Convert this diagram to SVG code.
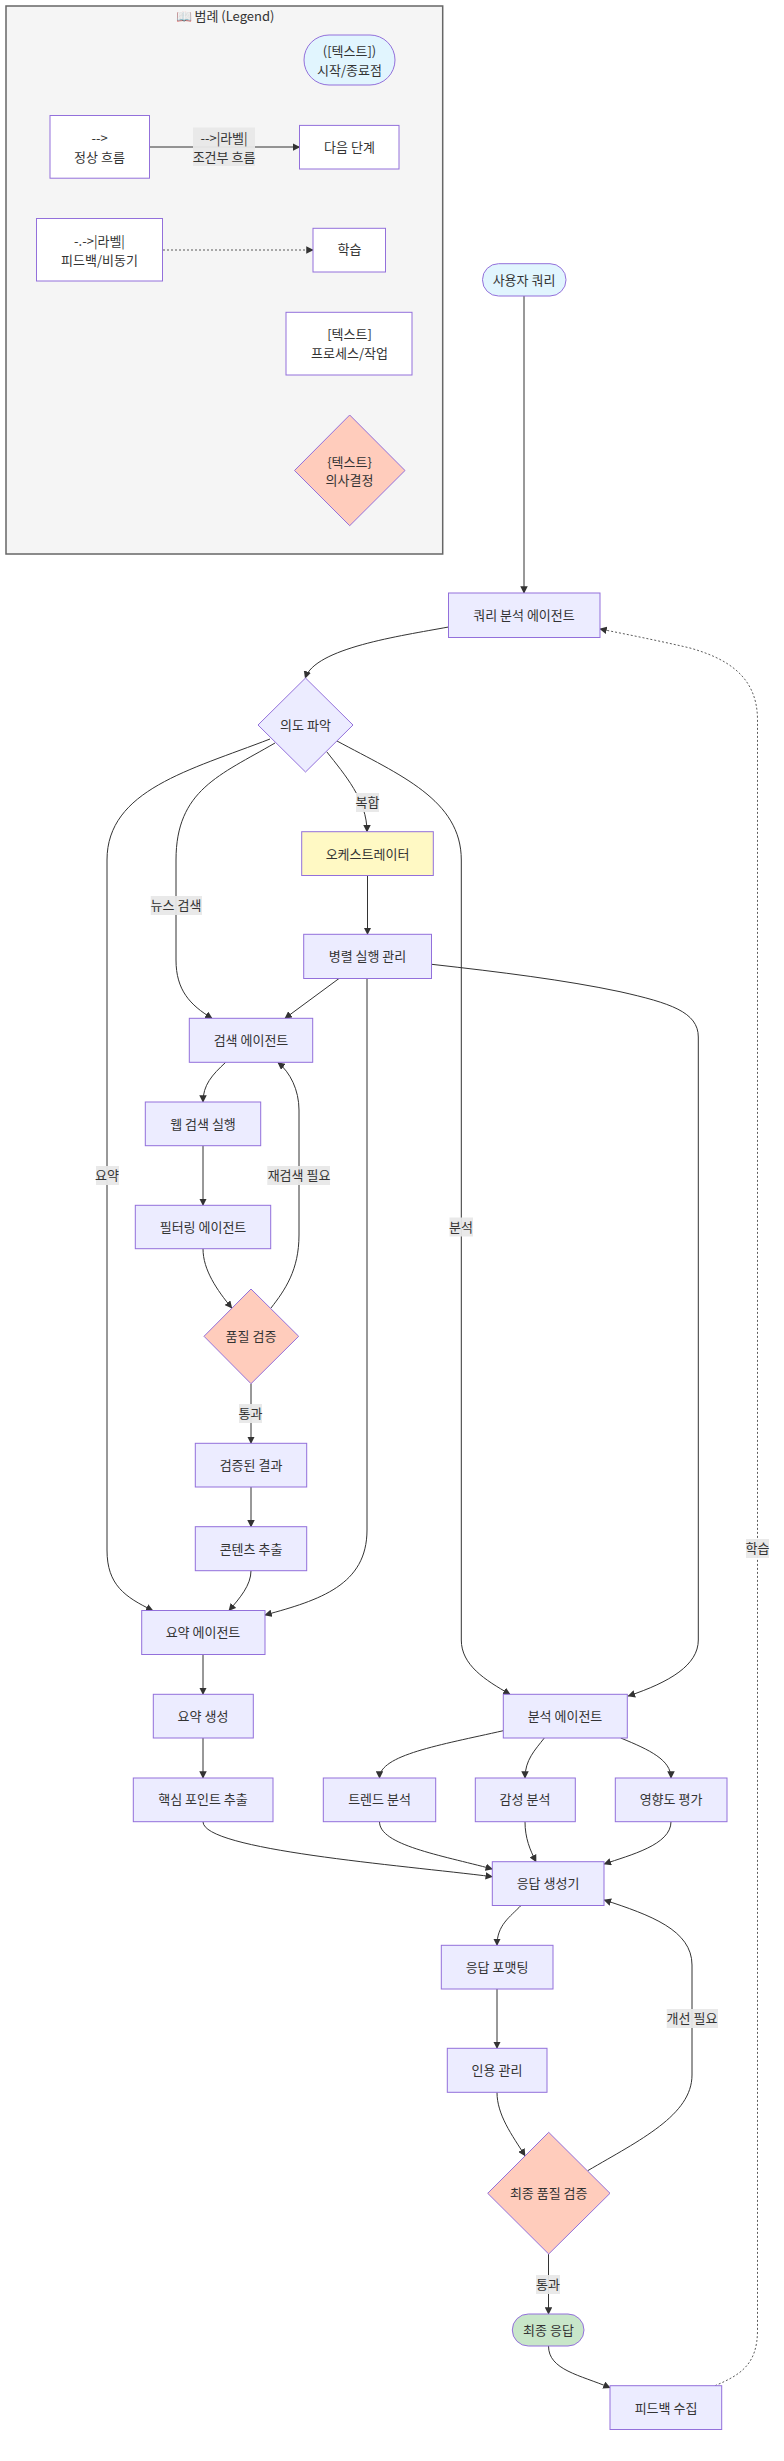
<svg xmlns="http://www.w3.org/2000/svg" width="784" height="2461" viewBox="0 0 784 2461">
<style>
text{font-family:"Noto Sans CJK KR","Noto Sans",sans-serif;font-size:13px;fill:#333;text-anchor:middle;dominant-baseline:central}
.n{fill:#ececff;stroke:#9370db;stroke-width:1}
.w{fill:#fff}
.d{fill:#ffccbc}
.s{fill:#e1f5fe}
.g{fill:#c8e6c9}
.y{fill:#fff9c4}
.c path{fill:none;stroke:#333;stroke-width:1;marker-end:url(#a)}
.c path.dot{stroke-dasharray:2 2;stroke-opacity:.8}
.lb{fill:#e8e8e8;opacity:.95}
</style>
<defs><marker id="a" viewBox="0 0 10 10" refX="9" refY="5" markerWidth="7.5" markerHeight="7.5" markerUnits="userSpaceOnUse" orient="auto"><path d="M0 0L10 5L0 10z" fill="#333"/></marker></defs>
<rect x="0" y="0" width="784" height="2461" fill="#fff"/>
<g id="legend">
<rect x="6" y="6" width="436.700" height="548" fill="#f5f5f5" stroke="#666" stroke-width="1.500"/>
<text x="225" y="15">📖 범례 (Legend)</text>
</g>
<g class="c" id="connectors">
<path d="M150 147H299.500"/>
<path class="dot" d="M163 250H313"/>
<path d="M524 296V593"/>
<path d="M448.500 627C400 636 315 648 305.300 678"/>
<path d="M270 739C190 770 107 790 107 860V1550C107 1585 125 1597 152.700 1610.500"/>
<path d="M275 743C220 775 176 790 176 860V960C176 990 190 1005 212 1018.300"/>
<path d="M326.700 751.700C345 775 367 800 367 831.700"/>
<path d="M337 741C400 775 461.300 800 461.300 860V1640C461.300 1665 485 1680 510 1694.300"/>
<path d="M367.500 875.500V934.300"/>
<path d="M339 978.500L285 1018.300"/>
<path d="M431.700 964.300C500 972 565 980 620 991.700C670 1003 698.300 1012 698.300 1037V1640C698.300 1665 670 1682 628.300 1696"/>
<path d="M367 978.500V1530C367 1585 320 1600 265 1615"/>
<path d="M225.700 1062.300C212 1075 203 1085 203 1102"/>
<path d="M203 1145.700V1205.300"/>
<path d="M203 1248.700C203 1270 217 1290 231.700 1308"/>
<path d="M271 1308C285 1290 299 1270 299 1235V1110C299 1090 290 1072 278 1062.700"/>
<path d="M251 1383.700V1443.300"/>
<path d="M251 1487V1526.700"/>
<path d="M251 1570.700C251 1585 240 1598 229 1610.500"/>
<path d="M203 1654.500V1694.300"/>
<path d="M203 1738V1778"/>
<path d="M203 1821.700C203 1850 400 1865 492.300 1876.700"/>
<path d="M379.500 1821.700C379.500 1845 440 1855 492.300 1869"/>
<path d="M503.300 1730.700C440 1745 379.500 1755 379.500 1778"/>
<path d="M544.300 1738C535 1750 525 1760 525 1778"/>
<path d="M620.700 1738C650 1750 671 1760 671 1778"/>
<path d="M525 1821.700C525 1838 530 1850 536 1861.700"/>
<path d="M671 1821.700C671 1845 630 1855 604.300 1864"/>
<path d="M521 1905.500C510 1917 497 1925 497 1945.300"/>
<path d="M497 1989V2048.300"/>
<path d="M497 2092.300C497 2115 512 2135 525 2155.700"/>
<path d="M587.700 2170.700C640 2140 692 2115 692 2075V1965C692 1930 650 1915 604.300 1900"/>
<path d="M548.500 2254V2314"/>
<path d="M548.500 2346C548.500 2370 580 2375 610 2387.700"/>
<path class="dot" d="M715 2385.700C740 2375 757.500 2365 757.500 2330V720C757.500 675 725 658 690 648C660 641 630 635 600 629"/>
</g>
<g id="labels">
<rect class="lb" x="193" y="127.500" width="62" height="38.500"/><text x="224" y="137.500">--&gt;|라벨|</text><text x="224" y="156">조건부 흐름</text>
<rect class="lb" x="356" y="793" width="23" height="19"/><text x="367.500" y="801.500">복합</text>
<rect class="lb" x="150.700" y="896" width="51.300" height="19"/><text x="176" y="904.500">뉴스 검색</text>
<rect class="lb" x="96" y="1166" width="23" height="19"/><text x="107" y="1174.500">요약</text>
<rect class="lb" x="267.300" y="1166" width="62.700" height="19"/><text x="299" y="1174.500">재검색 필요</text>
<rect class="lb" x="449.500" y="1217.500" width="23.500" height="19"/><text x="461" y="1226">분석</text>
<rect class="lb" x="239" y="1404" width="23" height="19"/><text x="250.500" y="1412.500">통과</text>
<rect class="lb" x="666.700" y="2009" width="51.300" height="19"/><text x="692" y="2017.500">개선 필요</text>
<rect class="lb" x="536" y="2275" width="24" height="19"/><text x="548" y="2283.500">통과</text>
<rect class="lb" x="746" y="1539" width="23" height="19"/><text x="757.500" y="1547.500">학습</text>
</g>
<g id="L1"><rect class="n s" x="304" y="35" width="91" height="50" rx="25"/><text x="349.500" y="50">([텍스트])</text><text x="349.500" y="69">시작/종료점</text></g>
<g id="L2"><rect class="n w" x="50" y="115.500" width="99.500" height="62.700"/><text x="99.500" y="137">--&gt;</text><text x="99.500" y="156">정상 흐름</text></g>
<g id="L3"><rect class="n w" x="299.500" y="125.400" width="99.500" height="43.600"/><text x="349.500" y="146">다음 단계</text></g>
<g id="L4"><rect class="n w" x="36.500" y="218.500" width="126" height="62.500"/><text x="99.500" y="240">-.-&gt;|라벨|</text><text x="99.500" y="259">피드백/비동기</text></g>
<g id="L5"><rect class="n w" x="313" y="228.300" width="72.500" height="43.700"/><text x="349.500" y="248.500">학습</text></g>
<g id="L6"><rect class="n w" x="286" y="312.300" width="126" height="62.700"/><text x="349.500" y="333.500">[텍스트]</text><text x="349.500" y="352.500">프로세스/작업</text></g>
<g id="L7"><polygon class="n d" points="349.700,415 405,470.500 349.700,525.700 294.500,470.500"/><text x="349.500" y="461">{텍스트}</text><text x="349.500" y="479.500">의사결정</text></g>
<g id="A"><rect class="n s" x="482.500" y="263.700" width="83.500" height="32.300" rx="16"/><text x="524" y="279">사용자 쿼리</text></g>
<g id="B"><rect class="n" x="448.500" y="593" width="151.500" height="44.500"/><text x="524" y="614">쿼리 분석 에이전트</text></g>
<g id="C"><polygon class="n" points="305.500,678 353,725 305.500,772 258,725"/><text x="305.500" y="724">의도 파악</text></g>
<g id="D"><rect class="n y" x="301.700" y="831.700" width="131.600" height="43.800"/><text x="367.500" y="853">오케스트레이터</text></g>
<g id="E"><rect class="n" x="303.700" y="934.300" width="127.800" height="44.200"/><text x="367.500" y="955">병렬 실행 관리</text></g>
<g id="F"><rect class="n" x="189.300" y="1018.300" width="123.400" height="44"/><text x="251" y="1039">검색 에이전트</text></g>
<g id="G"><rect class="n" x="145.300" y="1102" width="115.400" height="43.700"/><text x="203" y="1123">웹 검색 실행</text></g>
<g id="H"><rect class="n" x="135.300" y="1205.300" width="135.400" height="43.400"/><text x="203" y="1226">필터링 에이전트</text></g>
<g id="I"><polygon class="n d" points="251,1289 298.700,1336.300 251,1383.700 204,1336.300"/><text x="251" y="1335">품질 검증</text></g>
<g id="J"><rect class="n" x="195.300" y="1443.300" width="111.400" height="43.700"/><text x="251" y="1464">검증된 결과</text></g>
<g id="K"><rect class="n" x="195.300" y="1526.700" width="111.400" height="44"/><text x="251" y="1548">콘텐츠 추출</text></g>
<g id="M"><rect class="n" x="141.700" y="1610.500" width="123.300" height="44"/><text x="203" y="1631">요약 에이전트</text></g>
<g id="N"><rect class="n" x="153.300" y="1694.300" width="100" height="43.700"/><text x="203" y="1715">요약 생성</text></g>
<g id="O"><rect class="n" x="133.300" y="1778" width="139.700" height="43.700"/><text x="203" y="1798.500">핵심 포인트 추출</text></g>
<g id="P"><rect class="n" x="503.300" y="1694.300" width="124" height="43.700"/><text x="565" y="1715">분석 에이전트</text></g>
<g id="Q"><rect class="n" x="323.300" y="1778" width="112.400" height="43.700"/><text x="379.500" y="1798.500">트렌드 분석</text></g>
<g id="R"><rect class="n" x="475.300" y="1778" width="100" height="43.700"/><text x="525" y="1798.500">감성 분석</text></g>
<g id="S"><rect class="n" x="615.300" y="1778" width="111.700" height="43.700"/><text x="671" y="1798.500">영향도 평가</text></g>
<g id="T"><rect class="n" x="492.300" y="1861.700" width="111.700" height="43.800"/><text x="548" y="1882.500">응답 생성기</text></g>
<g id="U"><rect class="n" x="441.300" y="1945.300" width="111.700" height="43.700"/><text x="497" y="1966">응답 포맷팅</text></g>
<g id="V"><rect class="n" x="447.300" y="2048.300" width="99.700" height="44"/><text x="497" y="2069">인용 관리</text></g>
<g id="W"><polygon class="n d" points="548.700,2132.300 610,2193.300 548.700,2254 487.700,2193.300"/><text x="548.700" y="2192.500">최종 품질 검증</text></g>
<g id="X"><rect class="n g" x="512.300" y="2314" width="71.700" height="32" rx="16"/><text x="548.500" y="2329">최종 응답</text></g>
<g id="Y"><rect class="n" x="610" y="2385.700" width="111.700" height="43.800"/><text x="666" y="2407">피드백 수집</text></g>
</svg>
